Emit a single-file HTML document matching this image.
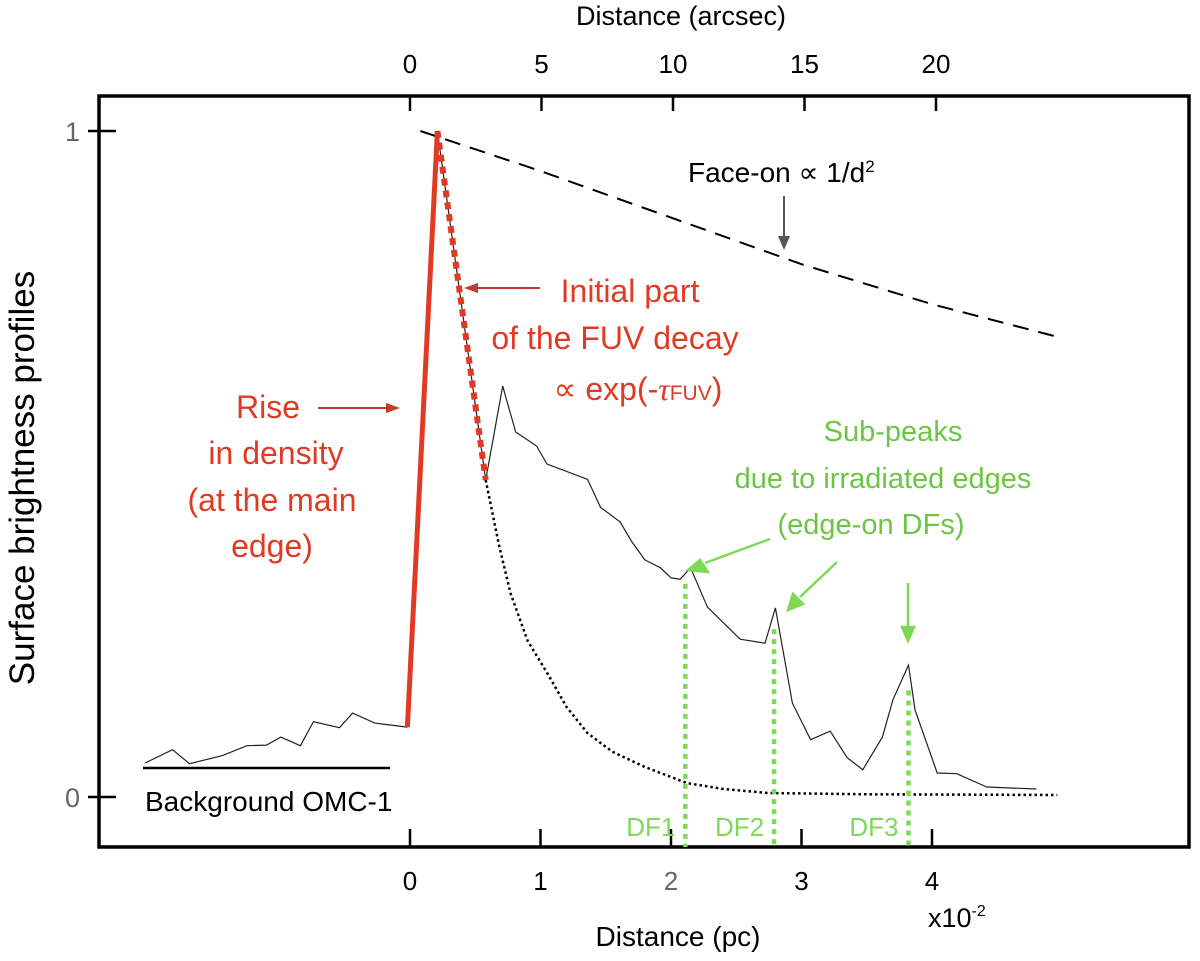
<!DOCTYPE html>
<html><head><meta charset="utf-8"><style>
html,body{margin:0;padding:0;background:#fff;}
svg{display:block;font-family:"Liberation Sans",Arial,sans-serif;}
</style></head><body>
<svg id="chart" width="1200" height="961" viewBox="0 0 1200 961">
<rect x="0" y="0" width="1200" height="961" fill="#fff"/>
<rect x="99" y="96" width="1090" height="751" fill="none" stroke="#000" stroke-width="3.5"/>
<g id="axes"></g>
<g id="marks"></g>
<g id="annot"></g>
</svg>
<script>
// data (x in units of 1e-2 pc, y normalized brightness)
const bgX = [-2.03,-1.82,-1.69,-1.44,-1.25,-1.10,-0.99,-0.84,-0.74,-0.54,-0.44,-0.27,-0.02];
const bgY = [0.051,0.071,0.050,0.062,0.077,0.078,0.090,0.077,0.113,0.104,0.126,0.111,0.105];
const riseX = [-0.02,0.21];
const riseY = [0.105,1.0];
const decayX = [0.21,0.58];
const decayY = [1.0,0.476];
const profX = [0.21,0.58,0.71,0.81,0.97,1.05,1.36,1.46,1.61,1.70,1.80,1.92,2.00,2.07,2.15,2.28,2.53,2.72,2.80,2.93,3.07,3.22,3.35,3.47,3.62,3.70,3.82,3.87,4.04,4.19,4.42,4.80];
const profY = [1.0,0.476,0.617,0.548,0.527,0.500,0.477,0.435,0.413,0.383,0.356,0.344,0.329,0.327,0.344,0.285,0.237,0.231,0.284,0.141,0.086,0.099,0.059,0.041,0.090,0.146,0.198,0.131,0.036,0.035,0.015,0.012];
const expX = [0.58,0.68,0.77,0.90,1.07,1.20,1.36,1.55,1.80,2.12,2.40,2.74,3.50,4.96];
const expY = [0.476,0.380,0.306,0.235,0.180,0.135,0.096,0.068,0.045,0.021,0.012,0.006,0.004,0.003];
const faceX = [0.08,1.0,2.0,3.0,4.0,4.98];
const faceY = [1.0,0.94,0.87,0.80,0.74,0.69];
const dfX = [2.11,2.79,3.82];
const dfTop = [0.320,0.252,0.160];
const dfLabels = ["DF1","DF2","DF3"];
const pcTicks = [0,1,2,3,4];
const pcTickLabels = ["0","1","2","3","4"];
const asTicks = [0,5,10,15,20];
const asTickLabels = ["0","5","10","15","20"];
const yTicks = [0,1];
const yTickLabels = ["0","1"];

const NS="http://www.w3.org/2000/svg";
const sx = v => 410 + v*130.5;
const sy = v => 797 - v*666;
const sxAs = v => 410 + v*26.3;
function mk(tag, attrs, parent, text){
  const e=document.createElementNS(NS,tag);
  for(const k in attrs) e.setAttribute(k,attrs[k]);
  if(text!==undefined) e.textContent=text;
  document.getElementById(parent).appendChild(e);
  return e;
}
function pts(xs,ys){return xs.map((x,i)=>sx(x).toFixed(1)+","+sy(ys[i]).toFixed(1)).join(" ");}

// axes
pcTicks.forEach((t,i)=>{
  const l=mk("line",{x1:sx(t),x2:sx(t),y1:829,y2:847,stroke:"#000","stroke-width":2.5},"axes");
  
  
  const tx=mk("text",{x:sx(t),y:890,"font-size":26,"text-anchor":"middle",fill:t===2?"#666":"#000"},"axes",pcTickLabels[i]);
  
  
});
asTicks.forEach((t,i)=>{
  const l=mk("line",{x1:sxAs(t),x2:sxAs(t),y1:96,y2:111,stroke:"#000","stroke-width":2.5},"axes");
  
  
  const tx=mk("text",{x:sxAs(t),y:73,"font-size":26,"text-anchor":"middle"},"axes",asTickLabels[i]);
  
  
});
yTicks.forEach((t,i)=>{
  const l=mk("line",{x1:88,x2:116,y1:sy(t),y2:sy(t),stroke:"#000","stroke-width":2.5},"axes");
  
  
  const tx=mk("text",{x:80,y:sy(t)+10,"font-size":27,"text-anchor":"end",fill:"#666"},"axes",yTickLabels[i]);
  
  
});

// marks
let e;
e=mk("polyline",{points:pts(faceX,faceY),fill:"none",stroke:"#000","stroke-width":2,"stroke-dasharray":"16,10"},"marks");


e=mk("polyline",{points:pts(expX,expY),fill:"none",stroke:"#000","stroke-width":2.5,"stroke-dasharray":"2.5,3"},"marks");


e=mk("polyline",{points:pts(bgX,bgY),fill:"none",stroke:"#222","stroke-width":1.2},"marks");


e=mk("polyline",{points:pts(profX,profY),fill:"none",stroke:"#222","stroke-width":1.2},"marks");


e=mk("polyline",{points:pts(riseX,riseY),fill:"none",stroke:"#e03a25","stroke-width":5},"marks");


e=mk("polyline",{points:pts(decayX,decayY),fill:"none",stroke:"#e03a25","stroke-width":6,"stroke-dasharray":"7,5"},"marks");


dfX.forEach((x,i)=>{
  const l=mk("line",{x1:sx(x),x2:sx(x),y1:sy(dfTop[i]),y2:847,stroke:"#7ed957","stroke-width":4.5,"stroke-dasharray":"5,5"},"marks");
  
  
  const tx=mk("text",{x:sx(x)-10,y:836,"font-size":26,"text-anchor":"end",fill:"#7ed957"},"marks",dfLabels[i]);
  
  
});
</script>
<script>
(function(){
const g=document.getElementById("annot");
g.innerHTML = `
<text x="681" y="25" font-size="27" text-anchor="middle">Distance (arcsec)</text>
<text x="678" y="946" font-size="28" text-anchor="middle">Distance (pc)</text>
<text x="928" y="927" font-size="27">x10<tspan font-size="16" dy="-11">-2</tspan></text>
<text transform="translate(34,478) rotate(-90)" font-size="35" text-anchor="middle">Surface brightness profiles</text>
<line x1="143" x2="390" y1="768" y2="768" stroke="#000" stroke-width="2.5"/>
<text x="145" y="811" font-size="28">Background OMC-1</text>
<text x="688" y="182" font-size="28">Face-on ∝ 1/d<tspan font-size="17" dy="-10">2</tspan></text>
<line x1="784" y1="196" x2="784" y2="240" stroke="#555" stroke-width="2"/>
<polygon points="778,236 790,236 784,250" fill="#555"/>
<g fill="#e03a25" font-size="32" text-anchor="middle">
<text x="268" y="418">Rise</text>
<text x="276" y="464">in density</text>
<text x="272" y="511">(at the main</text>
<text x="272" y="557">edge)</text>
<text x="630" y="302">Initial part</text>
<text x="615" y="349">of the FUV decay</text>
<text x="638" y="400">∝ exp(-<tspan font-style="italic" font-family="Liberation Serif">τ</tspan><tspan font-size="21">FUV</tspan>)</text>
</g>
<line x1="318" y1="408" x2="390" y2="408" stroke="#c0392b" stroke-width="2"/>
<polygon points="386,403 400,408 386,413" fill="#c0392b"/>
<line x1="540" y1="288" x2="475" y2="288" stroke="#c0392b" stroke-width="2"/>
<polygon points="478,283 464,288 478,293" fill="#c0392b"/>
<g fill="#6cc644" font-size="29" text-anchor="middle">
<text x="893" y="441">Sub-peaks</text>
<text x="883" y="488">due to irradiated edges</text>
<text x="871" y="534">(edge-on DFs)</text>
</g>
<g stroke="#7ed957" stroke-width="2.5" fill="#7ed957">
<line x1="770" y1="539" x2="705" y2="563"/><polygon points="700,560 688,570 708,572"/>
<line x1="837" y1="562" x2="800" y2="597"/><polygon points="793,594 788,610 803,604"/>
<line x1="908" y1="583" x2="908" y2="630"/><polygon points="902,627 914,627 908,641"/>
</g>`;
})();
</script>
</body></html>
